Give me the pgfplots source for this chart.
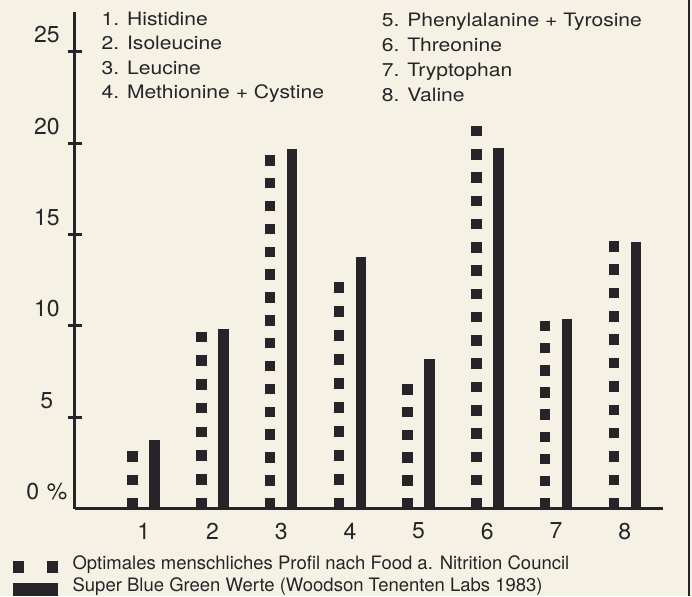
\documentclass[border=0pt]{standalone}
\usepackage{pgfplots}
\pgfplotsset{compat=1.18}
\usepackage{fontspec}
\setmainfont{TeX Gyre Heros}
\newfontfamily\listfont[FakeStretch=1.14]{TeX Gyre Heros}
\definecolor{ink}{RGB}{38,36,40}
\definecolor{paper}{RGB}{245,242,229}
\pgfplotsset{
  dotbar/.style={ycomb, ink, line width=10.5pt, line cap=butt, xshift=-11pt, mark=none, forget plot},
}
\begin{document}
\begin{tikzpicture}[x=1pt,y=1pt]
\fill[paper] (-75,-87.5) rectangle (617,508.5);
\begin{axis}[
  at={(0,0)}, anchor=origin,
  scale only axis,
  width=588pt, height=496.5pt,
  xmin=0, xmax=8.556,
  ymin=0, ymax=27.19,
  clip=false,
  axis lines=left,
  axis line style={-, line width=3pt, ink},
  tick align=center,
  major tick length=14pt,
  tick style={line width=3pt, ink},
  xtick={1,...,8},
  xticklabels={1,2,3,4,5,6,7,8},
  xtick style={draw=none},
  ytick={5,10,...,25},
  yticklabels={5,10,15,20,25},
  extra y ticks={0},
  extra y tick labels={0 \%},
  extra y tick style={major tick length=0pt, yticklabel style={xshift=-7pt}},
  /pgf/number format/assume math mode=true,
  tick label style={font=\fontsize{23}{27}\selectfont, text=ink},
  yticklabel style={anchor=east, text width=42pt, align=center, inner sep=0pt, yshift=17pt},
  xticklabel style={inner sep=0pt, yshift=-7pt},
  legend style={at={(0,0)}, anchor=north west, xshift=-62.3pt, yshift=-47pt,
    draw=none, fill=none, inner sep=0pt, outer sep=0pt,
    font=\fontsize{18.5}{22}\selectfont, text=ink,
    row sep=4.8pt,
    nodes={inner sep=0pt, text height=13.5pt, text depth=4pt},
    /tikz/every odd column/.append style={column sep=15pt}},
  legend cell align=left,
]
% dotted series: Optimales menschliches Profil (one plot per bar, each with its own square pitch)
\addplot[dotbar, dash pattern=on 10.5pt off 13.0pt]  coordinates {(1,3.16)};
\addplot[dotbar, dash pattern=on 10.5pt off 13.26pt] coordinates {(2,9.69)};
\addplot[dotbar, dash pattern=on 10.5pt off 12.36pt] coordinates {(3,19.37)};
\addplot[dotbar, dash pattern=on 10.5pt off 13.47pt] coordinates {(4,12.40)};
\addplot[dotbar, dash pattern=on 10.5pt off 12.3pt]  coordinates {(5,6.83)};
\addplot[dotbar, dash pattern=on 10.5pt off 12.75pt] coordinates {(6,20.96)};
\addplot[dotbar, dash pattern=on 10.5pt off 11.65pt] coordinates {(7,10.29)};
\addplot[dotbar, dash pattern=on 10.5pt off 12.86pt] coordinates {(8,14.66)};
\addlegendimage{legend image code/.code={
    \fill[ink] (0pt,-7.5pt) rectangle (10.5pt,3pt);
    \fill[ink] (34pt,-7.5pt) rectangle (44.5pt,3pt);}}
\addlegendentry{Optimales menschliches Profil nach Food a. Nitrition Council}
% solid series: Super Blue Green
\addplot[ycomb, ink, line width=10.5pt, line cap=butt, xshift=11pt, mark=none, forget plot]
  coordinates {(1,3.75) (2,9.81) (3,19.69) (4,13.79) (5,8.19) (6,19.73) (7,10.36) (8,14.61)};
\addlegendimage{legend image code/.code={
    \fill[ink] (0pt,-8.5pt) rectangle (44pt,3pt);}}
\addlegendentry{Super Blue Green Werte (Woodson Tenenten Labs 1983)}
\coordinate (O) at (axis cs:0,0);
\end{axis}
\begin{scope}[every node/.style={anchor=base west, inner sep=0pt, text=ink, font=\listfont\fontsize{18.5}{22}\selectfont}]
\node at ([shift={(26.5pt,482.5pt)}]O) {1. Histidine};
\node at ([shift={(26.5pt,458.5pt)}]O) {2. Isoleucine};
\node at ([shift={(26.5pt,433.5pt)}]O) {3. Leucine};
\node at ([shift={(26.5pt,409.5pt)}]O) {4. Methionine + Cystine};
\node at ([shift={(306.7pt,481.5pt)}]O) {5. Phenylalanine + Tyrosine};
\node at ([shift={(306.7pt,456.5pt)}]O) {6. Threonine};
\node at ([shift={(306.7pt,431.5pt)}]O) {7. Tryptophan};
\node at ([shift={(306.7pt,407pt)}]O) {8. Valine};
\end{scope}
\draw[ink, line width=2pt] ([shift={(614.3pt,508.5pt)}]O) -- ([shift={(614.3pt,-87.5pt)}]O);
\pgfresetboundingbox
\path[use as bounding box] ([shift={(-75pt,-87.5pt)}]O) rectangle ([shift={(617pt,508.5pt)}]O);
\end{tikzpicture}
\end{document}
